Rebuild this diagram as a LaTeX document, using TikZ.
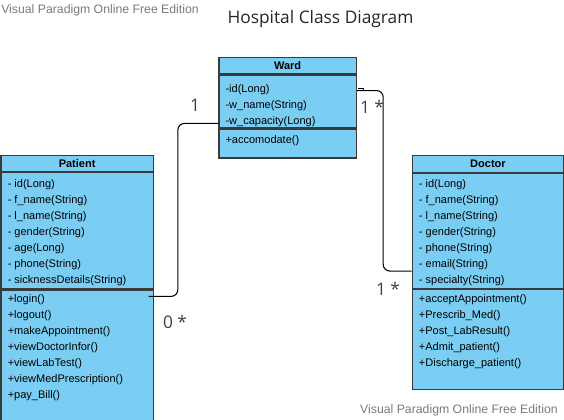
\documentclass[tikz,border=0pt]{standalone}
\usepackage{fontspec}
\setmainfont{Liberation Sans}
\newfontfamily\titlefont{Open Sans}
\usepackage{tikz}
\usetikzlibrary{calc}
\definecolor{classfille}{HTML}{7BCEF3}
\definecolor{classlinee}{HTML}{3A3A3A}
\definecolor{watermarke}{HTML}{7A7A7A}
\colorlet{classfill}{classfille}
\colorlet{classline}{classlinee}
\colorlet{markcolor}{watermarke}
\tikzstyle{classhead} = [
    draw=classline,
    fill=classfill,
    line width=0.9pt,
    rectangle,
    anchor=north west,
    inner sep=0pt,
    font=\fontsize{8.25}{10}\selectfont\bfseries
    ]
\tikzstyle{classpart} = [
    draw=classline,
    fill=classfill,
    line width=0.9pt,
    rectangle,
    anchor=north west,
    inner xsep=5pt,
    inner ysep=0pt,
    font=\fontsize{8.25}{12}\selectfont
    ]
\tikzstyle{assoc} = [
    draw=black,
    line width=0.8pt,
    rounded corners=5pt
    ]
\tikzstyle{multlabel} = [
    font=\titlefont\fontsize{13}{15}\selectfont,
    text=black!75,
    inner sep=0pt
    ]
\tikzstyle{watermark} = [
    font=\fontsize{9.2}{11}\selectfont,
    text=markcolor,
    inner sep=0pt
    ]

\begin{document}
\begin{tikzpicture}[x=0.75pt,y=-0.75pt]
\useasboundingbox (0,0) rectangle (564,420);

\node[watermark, anchor=west] (mark1) at (1,10) {Visual Paradigm Online Free Edition};
\node[watermark, anchor=east] (mark2) at (558,410) {Visual Paradigm Online Free Edition};
\node[font=\titlefont\fontsize{13}{15}\selectfont, text=black!85, inner sep=0pt] (title) at (320.5,19) {Hospital Class Diagram};

% Ward
\node[classhead, minimum width=103pt, minimum height=12.5pt] (wardhead) at (218.3,56.7) {Ward};
\node[classpart] (wardattr) at (wardhead.south west) {%
    \begin{minipage}[t][39.5pt][t]{93pt}\raggedright
\rule{0pt}{13pt}-id(Long)\\
-w\_name(String)\\
-w\_capacity(Long)
    \end{minipage}
};
\node[classpart] (wardop) at (wardattr.south west) {%
    \begin{minipage}[t][21.75pt][t]{93pt}\raggedright
\rule{0pt}{11pt}+accomodate()
    \end{minipage}
};

% Patient
\node[classhead, minimum width=114pt, minimum height=12pt] (pathead) at (0.5,155) {Patient};
\node[classpart] (patattr) at (pathead.south west) {%
    \begin{minipage}[t][87pt][t]{104pt}\raggedright
\rule{0pt}{11.2pt}- id(Long)\\
- f\_name(String)\\
- l\_name(String)\\
- gender(String)\\
- age(Long)\\
- phone(String)\\
- sicknessDetails(String)
    \end{minipage}
};
\node[classpart] (patop) at (patattr.south west) {%
    \begin{minipage}[t][99pt][t]{104pt}\raggedright
\rule{0pt}{9.2pt}+login()\\
+logout()\\
+makeAppointment()\\
+viewDoctorInfor()\\
+viewLabTest()\\
+viewMedPrescription()\\
+pay\_Bill()
    \end{minipage}
};

% Doctor
\node[classhead, minimum width=113.5pt, minimum height=12.5pt] (dochead) at (411.7,155) {Doctor};
\node[classpart] (docattr) at (dochead.south west) {%
    \begin{minipage}[t][86.25pt][t]{103.5pt}\raggedright
\rule{0pt}{10.6pt}- id(Long)\\
- f\_name(String)\\
- l\_name(String)\\
- gender(String)\\
- phone(String)\\
- email(String)\\
- specialty(String)
    \end{minipage}
};
\node[classpart] (docop) at (docattr.south west) {%
    \begin{minipage}[t][75pt][t]{103.5pt}\raggedright
\rule{0pt}{9.4pt}+acceptAppointment()\\
+Prescrib\_Med()\\
+Post\_LabResult()\\
+Admit\_patient()\\
+Discharge\_patient()
    \end{minipage}
};

% associations
\draw[assoc] ($(patattr.south east)+(-5,7)$) -| ($(wardattr.south west)+(-40.5,-5)$) -- ($(wardattr.south west)+(0,-5)$);
\draw[assoc, rounded corners=0pt] ($(wardattr.north east)+(1,14)$) -- ++(6,0) -- ++(0,2);
\draw[assoc] ($(wardattr.north east)+(0,16)$) -| ($(docattr.south west)+(-28.5,-18)$) -- ($(docattr.south west)+(0,-18)$);

\node[multlabel] (m1) at (195,105) {1};
\node[multlabel] (m2) at (175,322) {0 *};
\node[multlabel] (m3) at (372,107) {1 *};
\node[multlabel] (m4) at (388,289) {1 *};
\end{tikzpicture}
\end{document}
